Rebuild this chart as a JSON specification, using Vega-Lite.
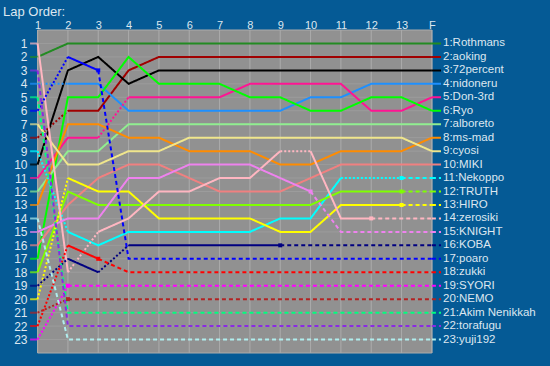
{
  "$schema": "https://vega.github.io/schema/vega-lite/v6.json",
  "width": 411,
  "height": 323,
  "autosize": {"type": "none"},
  "padding": {"left": 30, "top": 30, "right": 109, "bottom": 13},
  "background": "#055A95",
  "config": {"view": {"stroke": null}, "font": "Liberation Sans"},
  "title": {"text": "Lap Order:", "anchor": "start", "frame": "group", "dx": -27, "dy": 0, "offset": 0, "fontSize": 13, "font": "Liberation Sans", "fontWeight": "normal", "color": "#DDE7F0"},
  "resolve": {"axis": {"x": "independent", "y": "independent"}},
  "datasets": {
    "laps": [
      {"d": "Rothmans", "seg": 1, "kind": "run", "lap": 1, "pos": 2},
      {"d": "Rothmans", "seg": 1, "kind": "run", "lap": 2, "pos": 1},
      {"d": "Rothmans", "seg": 1, "kind": "run", "lap": 3, "pos": 1},
      {"d": "Rothmans", "seg": 1, "kind": "run", "lap": 4, "pos": 1},
      {"d": "Rothmans", "seg": 1, "kind": "run", "lap": 5, "pos": 1},
      {"d": "Rothmans", "seg": 1, "kind": "run", "lap": 6, "pos": 1},
      {"d": "Rothmans", "seg": 1, "kind": "run", "lap": 7, "pos": 1},
      {"d": "Rothmans", "seg": 1, "kind": "run", "lap": 8, "pos": 1},
      {"d": "Rothmans", "seg": 1, "kind": "run", "lap": 9, "pos": 1},
      {"d": "Rothmans", "seg": 1, "kind": "run", "lap": 10, "pos": 1},
      {"d": "Rothmans", "seg": 1, "kind": "run", "lap": 11, "pos": 1},
      {"d": "Rothmans", "seg": 1, "kind": "run", "lap": 12, "pos": 1},
      {"d": "Rothmans", "seg": 1, "kind": "run", "lap": 13, "pos": 1},
      {"d": "Rothmans", "seg": 1, "kind": "run", "lap": 14, "pos": 1},

      {"d": "aoking", "seg": 1, "kind": "pit", "lap": 1, "pos": 8},
      {"d": "aoking", "seg": 1, "kind": "pit", "lap": 2, "pos": 6},
      {"d": "aoking", "seg": 2, "kind": "run", "lap": 2, "pos": 6},
      {"d": "aoking", "seg": 2, "kind": "run", "lap": 3, "pos": 6},
      {"d": "aoking", "seg": 2, "kind": "run", "lap": 4, "pos": 3},
      {"d": "aoking", "seg": 2, "kind": "run", "lap": 5, "pos": 2},
      {"d": "aoking", "seg": 2, "kind": "run", "lap": 6, "pos": 2},
      {"d": "aoking", "seg": 2, "kind": "run", "lap": 7, "pos": 2},
      {"d": "aoking", "seg": 2, "kind": "run", "lap": 8, "pos": 2},
      {"d": "aoking", "seg": 2, "kind": "run", "lap": 9, "pos": 2},
      {"d": "aoking", "seg": 2, "kind": "run", "lap": 10, "pos": 2},
      {"d": "aoking", "seg": 2, "kind": "run", "lap": 11, "pos": 2},
      {"d": "aoking", "seg": 2, "kind": "run", "lap": 12, "pos": 2},
      {"d": "aoking", "seg": 2, "kind": "run", "lap": 13, "pos": 2},
      {"d": "aoking", "seg": 2, "kind": "run", "lap": 14, "pos": 2},

      {"d": "72percent", "seg": 1, "kind": "run", "lap": 1, "pos": 10},
      {"d": "72percent", "seg": 1, "kind": "run", "lap": 2, "pos": 3},
      {"d": "72percent", "seg": 1, "kind": "run", "lap": 3, "pos": 2},
      {"d": "72percent", "seg": 1, "kind": "run", "lap": 4, "pos": 4},
      {"d": "72percent", "seg": 1, "kind": "run", "lap": 5, "pos": 3},
      {"d": "72percent", "seg": 1, "kind": "run", "lap": 6, "pos": 3},
      {"d": "72percent", "seg": 1, "kind": "run", "lap": 7, "pos": 3},
      {"d": "72percent", "seg": 1, "kind": "run", "lap": 8, "pos": 3},
      {"d": "72percent", "seg": 1, "kind": "run", "lap": 9, "pos": 3},
      {"d": "72percent", "seg": 1, "kind": "run", "lap": 10, "pos": 3},
      {"d": "72percent", "seg": 1, "kind": "run", "lap": 11, "pos": 3},
      {"d": "72percent", "seg": 1, "kind": "run", "lap": 12, "pos": 3},
      {"d": "72percent", "seg": 1, "kind": "run", "lap": 13, "pos": 3},
      {"d": "72percent", "seg": 1, "kind": "run", "lap": 14, "pos": 3},

      {"d": "nidoneru", "seg": 1, "kind": "pit", "lap": 1, "pos": 4},
      {"d": "nidoneru", "seg": 1, "kind": "pit", "lap": 2, "pos": 4},
      {"d": "nidoneru", "seg": 2, "kind": "run", "lap": 2, "pos": 4},
      {"d": "nidoneru", "seg": 2, "kind": "run", "lap": 3, "pos": 4},
      {"d": "nidoneru", "seg": 2, "kind": "run", "lap": 4, "pos": 6},
      {"d": "nidoneru", "seg": 2, "kind": "run", "lap": 5, "pos": 6},
      {"d": "nidoneru", "seg": 2, "kind": "run", "lap": 6, "pos": 6},
      {"d": "nidoneru", "seg": 2, "kind": "run", "lap": 7, "pos": 6},
      {"d": "nidoneru", "seg": 2, "kind": "run", "lap": 8, "pos": 6},
      {"d": "nidoneru", "seg": 2, "kind": "run", "lap": 9, "pos": 6},
      {"d": "nidoneru", "seg": 2, "kind": "run", "lap": 10, "pos": 5},
      {"d": "nidoneru", "seg": 2, "kind": "run", "lap": 11, "pos": 5},
      {"d": "nidoneru", "seg": 2, "kind": "run", "lap": 12, "pos": 4},
      {"d": "nidoneru", "seg": 2, "kind": "run", "lap": 13, "pos": 4},
      {"d": "nidoneru", "seg": 2, "kind": "run", "lap": 14, "pos": 4},

      {"d": "Don-3rd", "seg": 1, "kind": "run", "lap": 1, "pos": 11},
      {"d": "Don-3rd", "seg": 1, "kind": "run", "lap": 2, "pos": 8},
      {"d": "Don-3rd", "seg": 1, "kind": "run", "lap": 3, "pos": 8},
      {"d": "Don-3rd", "seg": 2, "kind": "pit", "lap": 3, "pos": 8},
      {"d": "Don-3rd", "seg": 2, "kind": "pit", "lap": 4, "pos": 5},
      {"d": "Don-3rd", "seg": 3, "kind": "run", "lap": 4, "pos": 5},
      {"d": "Don-3rd", "seg": 3, "kind": "run", "lap": 5, "pos": 5},
      {"d": "Don-3rd", "seg": 3, "kind": "run", "lap": 6, "pos": 5},
      {"d": "Don-3rd", "seg": 3, "kind": "run", "lap": 7, "pos": 5},
      {"d": "Don-3rd", "seg": 3, "kind": "run", "lap": 8, "pos": 4},
      {"d": "Don-3rd", "seg": 3, "kind": "run", "lap": 9, "pos": 4},
      {"d": "Don-3rd", "seg": 3, "kind": "run", "lap": 10, "pos": 4},
      {"d": "Don-3rd", "seg": 3, "kind": "run", "lap": 11, "pos": 4},
      {"d": "Don-3rd", "seg": 3, "kind": "run", "lap": 12, "pos": 6},
      {"d": "Don-3rd", "seg": 3, "kind": "run", "lap": 13, "pos": 6},
      {"d": "Don-3rd", "seg": 3, "kind": "run", "lap": 14, "pos": 5},

      {"d": "Ryo", "seg": 1, "kind": "run", "lap": 1, "pos": 17},
      {"d": "Ryo", "seg": 1, "kind": "run", "lap": 2, "pos": 5},
      {"d": "Ryo", "seg": 1, "kind": "run", "lap": 3, "pos": 5},
      {"d": "Ryo", "seg": 1, "kind": "run", "lap": 4, "pos": 2},
      {"d": "Ryo", "seg": 1, "kind": "run", "lap": 5, "pos": 4},
      {"d": "Ryo", "seg": 1, "kind": "run", "lap": 6, "pos": 4},
      {"d": "Ryo", "seg": 1, "kind": "run", "lap": 7, "pos": 4},
      {"d": "Ryo", "seg": 1, "kind": "run", "lap": 8, "pos": 5},
      {"d": "Ryo", "seg": 1, "kind": "run", "lap": 9, "pos": 5},
      {"d": "Ryo", "seg": 1, "kind": "run", "lap": 10, "pos": 6},
      {"d": "Ryo", "seg": 1, "kind": "run", "lap": 11, "pos": 6},
      {"d": "Ryo", "seg": 1, "kind": "run", "lap": 12, "pos": 5},
      {"d": "Ryo", "seg": 1, "kind": "run", "lap": 13, "pos": 5},
      {"d": "Ryo", "seg": 1, "kind": "run", "lap": 14, "pos": 6},

      {"d": "alboreto", "seg": 1, "kind": "run", "lap": 1, "pos": 12},
      {"d": "alboreto", "seg": 1, "kind": "run", "lap": 2, "pos": 9},
      {"d": "alboreto", "seg": 1, "kind": "run", "lap": 3, "pos": 9},
      {"d": "alboreto", "seg": 1, "kind": "run", "lap": 4, "pos": 7},
      {"d": "alboreto", "seg": 1, "kind": "run", "lap": 5, "pos": 7},
      {"d": "alboreto", "seg": 1, "kind": "run", "lap": 6, "pos": 7},
      {"d": "alboreto", "seg": 1, "kind": "run", "lap": 7, "pos": 7},
      {"d": "alboreto", "seg": 1, "kind": "run", "lap": 8, "pos": 7},
      {"d": "alboreto", "seg": 1, "kind": "run", "lap": 9, "pos": 7},
      {"d": "alboreto", "seg": 1, "kind": "run", "lap": 10, "pos": 7},
      {"d": "alboreto", "seg": 1, "kind": "run", "lap": 11, "pos": 7},
      {"d": "alboreto", "seg": 1, "kind": "run", "lap": 12, "pos": 7},
      {"d": "alboreto", "seg": 1, "kind": "run", "lap": 13, "pos": 7},
      {"d": "alboreto", "seg": 1, "kind": "run", "lap": 14, "pos": 7},

      {"d": "ms-mad", "seg": 1, "kind": "run", "lap": 1, "pos": 13},
      {"d": "ms-mad", "seg": 1, "kind": "run", "lap": 2, "pos": 7},
      {"d": "ms-mad", "seg": 1, "kind": "run", "lap": 3, "pos": 7},
      {"d": "ms-mad", "seg": 1, "kind": "run", "lap": 4, "pos": 8},
      {"d": "ms-mad", "seg": 1, "kind": "run", "lap": 5, "pos": 8},
      {"d": "ms-mad", "seg": 1, "kind": "run", "lap": 6, "pos": 9},
      {"d": "ms-mad", "seg": 1, "kind": "run", "lap": 7, "pos": 9},
      {"d": "ms-mad", "seg": 1, "kind": "run", "lap": 8, "pos": 9},
      {"d": "ms-mad", "seg": 1, "kind": "run", "lap": 9, "pos": 10},
      {"d": "ms-mad", "seg": 1, "kind": "run", "lap": 10, "pos": 10},
      {"d": "ms-mad", "seg": 1, "kind": "run", "lap": 11, "pos": 9},
      {"d": "ms-mad", "seg": 1, "kind": "run", "lap": 12, "pos": 9},
      {"d": "ms-mad", "seg": 1, "kind": "run", "lap": 13, "pos": 9},
      {"d": "ms-mad", "seg": 1, "kind": "run", "lap": 14, "pos": 8},

      {"d": "cyosi", "seg": 1, "kind": "run", "lap": 1, "pos": 7},
      {"d": "cyosi", "seg": 1, "kind": "run", "lap": 2, "pos": 10},
      {"d": "cyosi", "seg": 1, "kind": "run", "lap": 3, "pos": 10},
      {"d": "cyosi", "seg": 1, "kind": "run", "lap": 4, "pos": 9},
      {"d": "cyosi", "seg": 1, "kind": "run", "lap": 5, "pos": 9},
      {"d": "cyosi", "seg": 1, "kind": "run", "lap": 6, "pos": 8},
      {"d": "cyosi", "seg": 1, "kind": "run", "lap": 7, "pos": 8},
      {"d": "cyosi", "seg": 1, "kind": "run", "lap": 8, "pos": 8},
      {"d": "cyosi", "seg": 1, "kind": "run", "lap": 9, "pos": 8},
      {"d": "cyosi", "seg": 1, "kind": "run", "lap": 10, "pos": 8},
      {"d": "cyosi", "seg": 1, "kind": "run", "lap": 11, "pos": 8},
      {"d": "cyosi", "seg": 1, "kind": "run", "lap": 12, "pos": 8},
      {"d": "cyosi", "seg": 1, "kind": "run", "lap": 13, "pos": 8},
      {"d": "cyosi", "seg": 1, "kind": "run", "lap": 14, "pos": 9},

      {"d": "MIKI", "seg": 1, "kind": "run", "lap": 1, "pos": 16},
      {"d": "MIKI", "seg": 1, "kind": "run", "lap": 2, "pos": 13},
      {"d": "MIKI", "seg": 1, "kind": "run", "lap": 3, "pos": 11},
      {"d": "MIKI", "seg": 1, "kind": "run", "lap": 4, "pos": 10},
      {"d": "MIKI", "seg": 1, "kind": "run", "lap": 5, "pos": 10},
      {"d": "MIKI", "seg": 1, "kind": "run", "lap": 6, "pos": 11},
      {"d": "MIKI", "seg": 1, "kind": "run", "lap": 7, "pos": 12},
      {"d": "MIKI", "seg": 1, "kind": "run", "lap": 8, "pos": 12},
      {"d": "MIKI", "seg": 1, "kind": "run", "lap": 9, "pos": 12},
      {"d": "MIKI", "seg": 1, "kind": "run", "lap": 10, "pos": 11},
      {"d": "MIKI", "seg": 1, "kind": "run", "lap": 11, "pos": 10},
      {"d": "MIKI", "seg": 1, "kind": "run", "lap": 12, "pos": 10},
      {"d": "MIKI", "seg": 1, "kind": "run", "lap": 13, "pos": 10},
      {"d": "MIKI", "seg": 1, "kind": "run", "lap": 14, "pos": 10},

      {"d": "Nekoppo", "seg": 1, "kind": "pit", "lap": 1, "pos": 9},
      {"d": "Nekoppo", "seg": 1, "kind": "pit", "lap": 2, "pos": 15},
      {"d": "Nekoppo", "seg": 2, "kind": "run", "lap": 2, "pos": 15},
      {"d": "Nekoppo", "seg": 2, "kind": "run", "lap": 3, "pos": 16},
      {"d": "Nekoppo", "seg": 2, "kind": "run", "lap": 4, "pos": 15},
      {"d": "Nekoppo", "seg": 2, "kind": "run", "lap": 5, "pos": 15},
      {"d": "Nekoppo", "seg": 2, "kind": "run", "lap": 6, "pos": 15},
      {"d": "Nekoppo", "seg": 2, "kind": "run", "lap": 7, "pos": 15},
      {"d": "Nekoppo", "seg": 2, "kind": "run", "lap": 8, "pos": 15},
      {"d": "Nekoppo", "seg": 2, "kind": "run", "lap": 9, "pos": 14},
      {"d": "Nekoppo", "seg": 2, "kind": "run", "lap": 10, "pos": 14},
      {"d": "Nekoppo", "seg": 2, "kind": "run", "lap": 11, "pos": 11},
      {"d": "Nekoppo", "seg": 3, "kind": "pit", "lap": 11, "pos": 11},
      {"d": "Nekoppo", "seg": 3, "kind": "pit", "lap": 12, "pos": 11},
      {"d": "Nekoppo", "seg": 3, "kind": "pit", "lap": 13, "pos": 11},
      {"d": "Nekoppo", "seg": 4, "kind": "out", "lap": 13, "pos": 11},
      {"d": "Nekoppo", "seg": 4, "kind": "out", "lap": 14, "pos": 11},

      {"d": "TRUTH", "seg": 1, "kind": "run", "lap": 1, "pos": 18},
      {"d": "TRUTH", "seg": 1, "kind": "run", "lap": 2, "pos": 12},
      {"d": "TRUTH", "seg": 1, "kind": "run", "lap": 3, "pos": 13},
      {"d": "TRUTH", "seg": 1, "kind": "run", "lap": 4, "pos": 13},
      {"d": "TRUTH", "seg": 1, "kind": "run", "lap": 5, "pos": 13},
      {"d": "TRUTH", "seg": 1, "kind": "run", "lap": 6, "pos": 13},
      {"d": "TRUTH", "seg": 1, "kind": "run", "lap": 7, "pos": 13},
      {"d": "TRUTH", "seg": 1, "kind": "run", "lap": 8, "pos": 13},
      {"d": "TRUTH", "seg": 1, "kind": "run", "lap": 9, "pos": 13},
      {"d": "TRUTH", "seg": 1, "kind": "run", "lap": 10, "pos": 13},
      {"d": "TRUTH", "seg": 1, "kind": "run", "lap": 11, "pos": 12},
      {"d": "TRUTH", "seg": 1, "kind": "run", "lap": 12, "pos": 12},
      {"d": "TRUTH", "seg": 1, "kind": "run", "lap": 13, "pos": 12},
      {"d": "TRUTH", "seg": 2, "kind": "out", "lap": 13, "pos": 12},
      {"d": "TRUTH", "seg": 2, "kind": "out", "lap": 14, "pos": 12},

      {"d": "HIRO", "seg": 1, "kind": "pit", "lap": 1, "pos": 20},
      {"d": "HIRO", "seg": 1, "kind": "pit", "lap": 2, "pos": 11},
      {"d": "HIRO", "seg": 2, "kind": "run", "lap": 2, "pos": 11},
      {"d": "HIRO", "seg": 2, "kind": "run", "lap": 3, "pos": 12},
      {"d": "HIRO", "seg": 2, "kind": "run", "lap": 4, "pos": 12},
      {"d": "HIRO", "seg": 2, "kind": "run", "lap": 5, "pos": 14},
      {"d": "HIRO", "seg": 2, "kind": "run", "lap": 6, "pos": 14},
      {"d": "HIRO", "seg": 2, "kind": "run", "lap": 7, "pos": 14},
      {"d": "HIRO", "seg": 2, "kind": "run", "lap": 8, "pos": 14},
      {"d": "HIRO", "seg": 2, "kind": "run", "lap": 9, "pos": 15},
      {"d": "HIRO", "seg": 2, "kind": "run", "lap": 10, "pos": 15},
      {"d": "HIRO", "seg": 2, "kind": "run", "lap": 11, "pos": 13},
      {"d": "HIRO", "seg": 2, "kind": "run", "lap": 12, "pos": 13},
      {"d": "HIRO", "seg": 2, "kind": "run", "lap": 13, "pos": 13},
      {"d": "HIRO", "seg": 3, "kind": "out", "lap": 13, "pos": 13},
      {"d": "HIRO", "seg": 3, "kind": "out", "lap": 14, "pos": 13},

      {"d": "zerosiki", "seg": 1, "kind": "run", "lap": 1, "pos": 1},
      {"d": "zerosiki", "seg": 1, "kind": "run", "lap": 2, "pos": 18},
      {"d": "zerosiki", "seg": 2, "kind": "pit", "lap": 2, "pos": 18},
      {"d": "zerosiki", "seg": 2, "kind": "pit", "lap": 3, "pos": 15},
      {"d": "zerosiki", "seg": 3, "kind": "run", "lap": 3, "pos": 15},
      {"d": "zerosiki", "seg": 3, "kind": "run", "lap": 4, "pos": 14},
      {"d": "zerosiki", "seg": 3, "kind": "run", "lap": 5, "pos": 12},
      {"d": "zerosiki", "seg": 3, "kind": "run", "lap": 6, "pos": 12},
      {"d": "zerosiki", "seg": 3, "kind": "run", "lap": 7, "pos": 11},
      {"d": "zerosiki", "seg": 3, "kind": "run", "lap": 8, "pos": 11},
      {"d": "zerosiki", "seg": 3, "kind": "run", "lap": 9, "pos": 9},
      {"d": "zerosiki", "seg": 4, "kind": "pit", "lap": 9, "pos": 9},
      {"d": "zerosiki", "seg": 4, "kind": "pit", "lap": 10, "pos": 9},
      {"d": "zerosiki", "seg": 5, "kind": "run", "lap": 10, "pos": 9},
      {"d": "zerosiki", "seg": 5, "kind": "run", "lap": 11, "pos": 14},
      {"d": "zerosiki", "seg": 5, "kind": "run", "lap": 12, "pos": 14},
      {"d": "zerosiki", "seg": 6, "kind": "out", "lap": 12, "pos": 14},
      {"d": "zerosiki", "seg": 6, "kind": "out", "lap": 14, "pos": 14},

      {"d": "KNIGHT", "seg": 1, "kind": "run", "lap": 1, "pos": 15},
      {"d": "KNIGHT", "seg": 1, "kind": "run", "lap": 2, "pos": 14},
      {"d": "KNIGHT", "seg": 1, "kind": "run", "lap": 3, "pos": 14},
      {"d": "KNIGHT", "seg": 1, "kind": "run", "lap": 4, "pos": 11},
      {"d": "KNIGHT", "seg": 1, "kind": "run", "lap": 5, "pos": 11},
      {"d": "KNIGHT", "seg": 1, "kind": "run", "lap": 6, "pos": 10},
      {"d": "KNIGHT", "seg": 1, "kind": "run", "lap": 7, "pos": 10},
      {"d": "KNIGHT", "seg": 1, "kind": "run", "lap": 8, "pos": 10},
      {"d": "KNIGHT", "seg": 1, "kind": "run", "lap": 9, "pos": 11},
      {"d": "KNIGHT", "seg": 1, "kind": "run", "lap": 10, "pos": 12},
      {"d": "KNIGHT", "seg": 2, "kind": "out", "lap": 10, "pos": 12},
      {"d": "KNIGHT", "seg": 2, "kind": "out", "lap": 11, "pos": 15},
      {"d": "KNIGHT", "seg": 2, "kind": "out", "lap": 14, "pos": 15},

      {"d": "KOBA", "seg": 1, "kind": "pit", "lap": 1, "pos": 19},
      {"d": "KOBA", "seg": 1, "kind": "pit", "lap": 2, "pos": 17},
      {"d": "KOBA", "seg": 2, "kind": "run", "lap": 2, "pos": 17},
      {"d": "KOBA", "seg": 2, "kind": "run", "lap": 3, "pos": 18},
      {"d": "KOBA", "seg": 3, "kind": "pit", "lap": 3, "pos": 18},
      {"d": "KOBA", "seg": 3, "kind": "pit", "lap": 4, "pos": 16},
      {"d": "KOBA", "seg": 4, "kind": "run", "lap": 4, "pos": 16},
      {"d": "KOBA", "seg": 4, "kind": "run", "lap": 5, "pos": 16},
      {"d": "KOBA", "seg": 4, "kind": "run", "lap": 6, "pos": 16},
      {"d": "KOBA", "seg": 4, "kind": "run", "lap": 7, "pos": 16},
      {"d": "KOBA", "seg": 4, "kind": "run", "lap": 8, "pos": 16},
      {"d": "KOBA", "seg": 4, "kind": "run", "lap": 9, "pos": 16},
      {"d": "KOBA", "seg": 5, "kind": "out", "lap": 9, "pos": 16},
      {"d": "KOBA", "seg": 5, "kind": "out", "lap": 14, "pos": 16},

      {"d": "poaro", "seg": 1, "kind": "pit", "lap": 1, "pos": 6},
      {"d": "poaro", "seg": 1, "kind": "pit", "lap": 2, "pos": 2},
      {"d": "poaro", "seg": 2, "kind": "run", "lap": 2, "pos": 2},
      {"d": "poaro", "seg": 2, "kind": "run", "lap": 3, "pos": 3},
      {"d": "poaro", "seg": 3, "kind": "out", "lap": 3, "pos": 3},
      {"d": "poaro", "seg": 3, "kind": "out", "lap": 4, "pos": 17},
      {"d": "poaro", "seg": 3, "kind": "out", "lap": 14, "pos": 17},

      {"d": "zukki", "seg": 1, "kind": "pit", "lap": 1, "pos": 22},
      {"d": "zukki", "seg": 1, "kind": "pit", "lap": 2, "pos": 16},
      {"d": "zukki", "seg": 2, "kind": "run", "lap": 2, "pos": 16},
      {"d": "zukki", "seg": 2, "kind": "run", "lap": 3, "pos": 17},
      {"d": "zukki", "seg": 3, "kind": "out", "lap": 3, "pos": 17},
      {"d": "zukki", "seg": 3, "kind": "out", "lap": 4, "pos": 18},
      {"d": "zukki", "seg": 3, "kind": "out", "lap": 14, "pos": 18},

      {"d": "SYORI", "seg": 1, "kind": "pit", "lap": 1, "pos": 23},
      {"d": "SYORI", "seg": 1, "kind": "pit", "lap": 2, "pos": 19},
      {"d": "SYORI", "seg": 2, "kind": "out", "lap": 2, "pos": 19},
      {"d": "SYORI", "seg": 2, "kind": "out", "lap": 14, "pos": 19},

      {"d": "NEMO", "seg": 1, "kind": "pit", "lap": 1, "pos": 21},
      {"d": "NEMO", "seg": 1, "kind": "pit", "lap": 2, "pos": 20},
      {"d": "NEMO", "seg": 2, "kind": "out", "lap": 2, "pos": 20},
      {"d": "NEMO", "seg": 2, "kind": "out", "lap": 14, "pos": 20},

      {"d": "Akim Nenikkah", "seg": 1, "kind": "out", "lap": 1, "pos": 5},
      {"d": "Akim Nenikkah", "seg": 1, "kind": "out", "lap": 2, "pos": 21},
      {"d": "Akim Nenikkah", "seg": 1, "kind": "out", "lap": 14, "pos": 21},

      {"d": "torafugu", "seg": 1, "kind": "out", "lap": 1, "pos": 3},
      {"d": "torafugu", "seg": 1, "kind": "out", "lap": 2, "pos": 22},
      {"d": "torafugu", "seg": 1, "kind": "out", "lap": 14, "pos": 22},

      {"d": "yuji192", "seg": 1, "kind": "out", "lap": 1, "pos": 14},
      {"d": "yuji192", "seg": 1, "kind": "out", "lap": 2, "pos": 23},
      {"d": "yuji192", "seg": 1, "kind": "out", "lap": 14, "pos": 23}
    ],
    "finish": [
      {"d": "Rothmans", "pos": 1, "kind": "run", "label": "1:Rothmans"},
      {"d": "aoking", "pos": 2, "kind": "run", "label": "2:aoking"},
      {"d": "72percent", "pos": 3, "kind": "run", "label": "3:72percent"},
      {"d": "nidoneru", "pos": 4, "kind": "run", "label": "4:nidoneru"},
      {"d": "Don-3rd", "pos": 5, "kind": "run", "label": "5:Don-3rd"},
      {"d": "Ryo", "pos": 6, "kind": "run", "label": "6:Ryo"},
      {"d": "alboreto", "pos": 7, "kind": "run", "label": "7:alboreto"},
      {"d": "ms-mad", "pos": 8, "kind": "run", "label": "8:ms-mad"},
      {"d": "cyosi", "pos": 9, "kind": "run", "label": "9:cyosi"},
      {"d": "MIKI", "pos": 10, "kind": "run", "label": "10:MIKI"},
      {"d": "Nekoppo", "pos": 11, "kind": "out", "label": "11:Nekoppo"},
      {"d": "TRUTH", "pos": 12, "kind": "out", "label": "12:TRUTH"},
      {"d": "HIRO", "pos": 13, "kind": "out", "label": "13:HIRO"},
      {"d": "zerosiki", "pos": 14, "kind": "out", "label": "14:zerosiki"},
      {"d": "KNIGHT", "pos": 15, "kind": "out", "label": "15:KNIGHT"},
      {"d": "KOBA", "pos": 16, "kind": "out", "label": "16:KOBA"},
      {"d": "poaro", "pos": 17, "kind": "out", "label": "17:poaro"},
      {"d": "zukki", "pos": 18, "kind": "out", "label": "18:zukki"},
      {"d": "SYORI", "pos": 19, "kind": "out", "label": "19:SYORI"},
      {"d": "NEMO", "pos": 20, "kind": "out", "label": "20:NEMO"},
      {"d": "Akim Nenikkah", "pos": 21, "kind": "out", "label": "21:Akim Nenikkah"},
      {"d": "torafugu", "pos": 22, "kind": "out", "label": "22:torafugu"},
      {"d": "yuji192", "pos": 23, "kind": "out", "label": "23:yuji192"}
    ],
    "ret": [
      {"d": "poaro", "lap": 3, "pos": 3},
      {"d": "zukki", "lap": 3, "pos": 17},
      {"d": "SYORI", "lap": 2, "pos": 19},
      {"d": "NEMO", "lap": 2, "pos": 20},
      {"d": "KOBA", "lap": 9, "pos": 16},
      {"d": "KNIGHT", "lap": 10, "pos": 12},
      {"d": "zerosiki", "lap": 12, "pos": 14},
      {"d": "Nekoppo", "lap": 13, "pos": 11},
      {"d": "TRUTH", "lap": 13, "pos": 12},
      {"d": "HIRO", "lap": 13, "pos": 13}
    ]
  },
  "layer": [
    {
      "data": {"values": [{}]},
      "mark": {"type": "rect", "fill": "#919191", "stroke": "#ABABAB", "strokeWidth": 1},
      "encoding": {
        "x": {"datum": 1, "type": "quantitative", "scale": {"domain": [0.75, 14.3], "nice": false, "zero": false}, "axis": null},
        "x2": {"datum": 14},
        "y": {"datum": 0, "type": "quantitative", "scale": {"domain": [0, 24], "reverse": true, "nice": false, "zero": false}, "axis": null},
        "y2": {"datum": 24}
      }
    },
    {
      "data": {"name": "laps"},
      "transform": [{"filter": "datum.d == 'Rothmans'"}],
      "mark": {"type": "rule", "color": "#ABABAB", "strokeWidth": 1},
      "encoding": {
        "x": {"field": "lap", "type": "quantitative", "axis": null},
        "y": {"datum": 0, "type": "quantitative", "axis": null},
        "y2": {"datum": 24}
      }
    },
    {
      "data": {"name": "finish"},
      "mark": {"type": "rule", "color": "#9C9C9C", "strokeWidth": 1},
      "encoding": {
        "y": {"field": "pos", "type": "quantitative", "axis": null},
        "x": {"datum": 1, "type": "quantitative", "axis": null},
        "x2": {"datum": 14}
      }
    },
    {
      "data": {"name": "laps"},
      "mark": {"type": "line", "interpolate": "linear"},
      "encoding": {
        "x": {"field": "lap", "type": "quantitative",
          "axis": {"orient": "top", "values": [1,2,3,4,5,6,7,8,9,10,11,12,13,14], "labelExpr": "datum.value == 14 ? 'F' : '' + datum.value", "grid": false, "ticks": false, "domain": false, "labelColor": "#DDE7F0", "labelFontSize": 11, "labelFont": "Liberation Sans", "labelPadding": 0, "labelFlush": false, "labelOverlap": false, "labelBound": false, "title": null, "labelAngle": 0}},
        "y": {"field": "pos", "type": "quantitative",
          "axis": {"values": [1,2,3,4,5,6,7,8,9,10,11,12,13,14,15,16,17,18,19,20,21,22,23], "grid": false, "ticks": false, "domain": false, "labelColor": "#DDE7F0", "labelFontSize": 12, "labelFont": "Liberation Sans", "labelPadding": 3, "labelFlush": false, "labelOverlap": false, "labelBound": false, "title": null}},
        "color": {"field": "d", "type": "nominal", "legend": null,
          "scale": {"domain": ["Rothmans","aoking","72percent","nidoneru","Don-3rd","Ryo","alboreto","ms-mad","cyosi","MIKI","Nekoppo","TRUTH","HIRO","zerosiki","KNIGHT","KOBA","poaro","zukki","SYORI","NEMO","Akim Nenikkah","torafugu","yuji192"],
                    "range": ["#228B22","#A00000","#000000","#1E90FF","#FF1493","#00FF00","#90EE90","#FF8C00","#F0E68C","#F08080","#00FFFF","#7FFF00","#FFFF00","#FFB6C1","#EE82EE","#000080","#0000FF","#FF0000","#FF00FF","#B22222","#00FF7F","#8A2BE2","#AFEEEE"]}},
        "strokeDash": {"field": "kind", "type": "nominal", "legend": null, "scale": {"domain": ["run","pit","out"], "range": [[1,0],[2,2],[4,3]]}},
        "strokeWidth": {"field": "kind", "type": "nominal", "legend": null, "scale": {"domain": ["run","pit","out"], "range": [2,2,1.2]}},
        "detail": {"field": "seg", "type": "nominal"},
        "order": {"field": "lap", "type": "quantitative"}
      }
    },
    {
      "data": {"name": "laps"},
      "transform": [{"filter": "datum.lap == 1"}],
      "mark": {"type": "tick", "orient": "horizontal", "size": 7, "thickness": 2, "xOffset": -4},
      "encoding": {
        "x": {"field": "lap", "type": "quantitative", "axis": null},
        "y": {"field": "pos", "type": "quantitative", "axis": null},
        "color": {"field": "d", "type": "nominal", "legend": null}
      }
    },
    {
      "data": {"name": "ret"},
      "mark": {"type": "square", "size": 16, "filled": true, "opacity": 1},
      "encoding": {
        "x": {"field": "lap", "type": "quantitative", "axis": null},
        "y": {"field": "pos", "type": "quantitative", "axis": null},
        "color": {"field": "d", "type": "nominal", "legend": null}
      }
    },
    {
      "data": {"name": "finish"},
      "mark": {"type": "rule"},
      "encoding": {
        "x": {"datum": 14, "type": "quantitative", "axis": null},
        "x2": {"datum": 14.3},
        "y": {"field": "pos", "type": "quantitative", "axis": null},
        "color": {"field": "d", "type": "nominal", "legend": null},
        "strokeDash": {"field": "kind", "type": "nominal", "legend": null},
        "strokeWidth": {"field": "kind", "type": "nominal", "legend": null}
      }
    },
    {
      "data": {"name": "finish"},
      "mark": {"type": "text", "align": "left", "baseline": "middle", "dx": 2, "fontSize": 11.5, "font": "Liberation Sans", "color": "#DDE7F0"},
      "encoding": {
        "x": {"datum": 14.3, "type": "quantitative", "axis": null},
        "y": {"field": "pos", "type": "quantitative", "axis": null},
        "text": {"field": "label"}
      }
    }
  ]
}
